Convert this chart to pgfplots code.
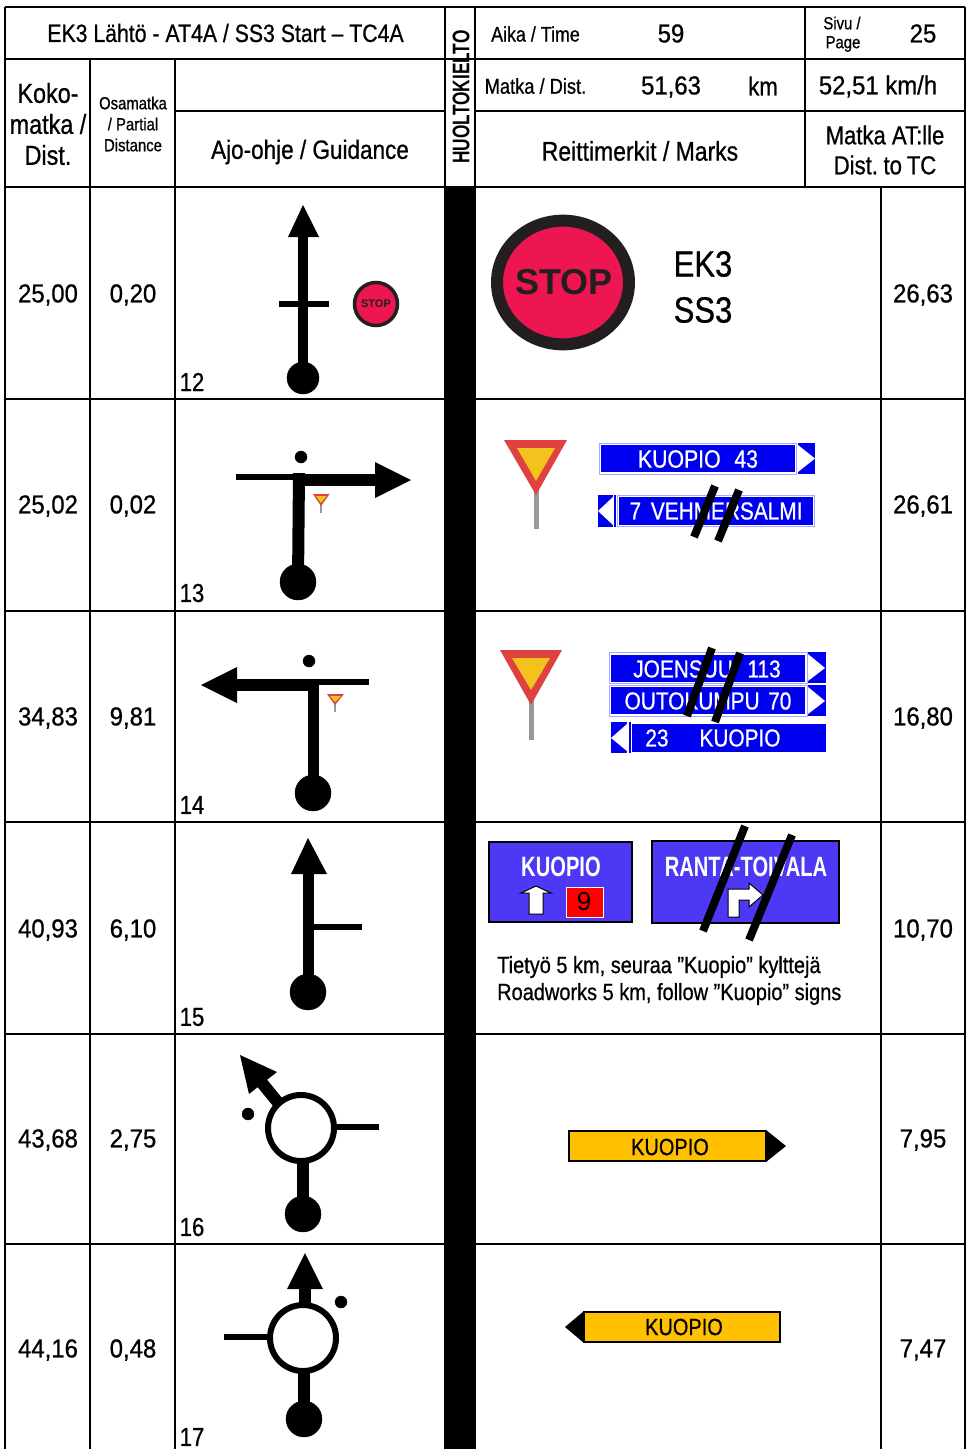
\documentclass[border=0pt]{standalone}
\usepackage{fontspec}
\setmainfont{Liberation Sans}[FakeStretch=0.85,FakeBold=0.7]
\newfontfamily\numf{Liberation Sans}[FakeStretch=0.92,FakeBold=0.7]
\newfontfamily\arialf{Liberation Sans}
\newfontfamily\signb{Liberation Sans Bold}[FakeStretch=0.72]
\usepackage{pgfplots}
\pgfplotsset{compat=1.18}
\definecolor{ybr}{HTML}{DF4040}
\definecolor{yby}{HTML}{F4C21C}
\definecolor{polegray}{HTML}{999999}
\definecolor{stopred}{HTML}{EE1650}
\definecolor{stopink}{HTML}{231F20}
\definecolor{signblue}{HTML}{0000F0}
\definecolor{signedge}{HTML}{A8A8FF}
\definecolor{bigblue}{HTML}{4C38F5}
\definecolor{oranges}{HTML}{FFC000}
% line: width, colour, coordinates
\newcommand\Ln[3]{\addplot[draw=#2,line width=#1pt,line cap=butt] coordinates {#3};}
% polygon: fill colour, coordinates
\newcommand\Pg[2]{\addplot[fill=#1,draw=none] coordinates {#2} -- cycle;}
\newcommand\PgE[4]{\addplot[fill=#1,draw=#2,line width=#3pt] coordinates {#4} -- cycle;}
% dot: radius, fill, coordinate
\newcommand\Dt[3]{\addplot[only marks,mark=*,mark size=#1pt,mark options={fill=#2,draw=none}] coordinates {#3};}
% ring: radius, ring width, fill, ring colour, coordinate
\newcommand\Rg[5]{\addplot[only marks,mark=*,mark size=#1pt,mark options={fill=#3,draw=#4,line width=#2pt}] coordinates {#5};}
% text: x,y  size  content
\newcommand\T[3]{\node[inner sep=0pt,align=center,font=\fontsize{#2}{#2}\selectfont] at (axis cs:#1){#3};}
\newcommand\N[3]{\node[inner sep=0pt,align=center,font=\numf\fontsize{#2}{#2}\selectfont] at (axis cs:#1){#3};}
\newcommand\TL[3]{\node[inner sep=0pt,anchor=west,font=\fontsize{#2}{#2}\selectfont] at (axis cs:#1){#3};}
\newcommand\TW[3]{\node[inner sep=0pt,align=center,text=white,font=\fontsize{#2}{#2}\selectfont] at (axis cs:#1){#3};}
\newcommand\TB[3]{\node[inner sep=0pt,align=center,text=white,font=\signb\fontsize{#2}{#2}\selectfont] at (axis cs:#1){#3};}
\begin{document}
\begin{tikzpicture}
\begin{axis}[scale only axis,width=971pt,height=1449pt,xmin=0,xmax=971,ymin=0,ymax=1449,y dir=reverse,hide axis,clip mode=individual]
\Pg{white}{(0,0)(971,0)(971,1449)(0,1449)}
% black column
\Pg{black}{(445,187)(475,187)(475,1449)(445,1449)}
% grid
\Ln{2}{black}{(5,7)(965,7)}
\Ln{2}{black}{(5,59)(965,59)}
\Ln{2}{black}{(175,111)(445,111)}
\Ln{2}{black}{(475,111)(965,111)}
\Ln{2}{black}{(5,187)(965,187)}
\Ln{2}{black}{(5,399)(965,399)}
\Ln{2}{black}{(5,611)(965,611)}
\Ln{2}{black}{(5,822)(965,822)}
\Ln{2}{black}{(5,1034)(965,1034)}
\Ln{2}{black}{(5,1244)(965,1244)}
\Ln{2}{black}{(5,7)(5,1449)}
\Ln{2}{black}{(965,7)(965,1449)}
\Ln{2}{black}{(90,59)(90,1449)}
\Ln{2}{black}{(175,59)(175,1449)}
\Ln{2}{black}{(445,7)(445,1449)}
\Ln{2}{black}{(475,7)(475,1449)}
\Ln{2}{black}{(805,7)(805,187)}
\Ln{2}{black}{(881,187)(881,1449)}
% guidance 12
\Ln{10.5}{black}{(303,235)(303,378)}
\Pg{black}{(303,205)(319,237)(288,237)}
\Ln{6}{black}{(279,304)(329,304)}
\Dt{16}{black}{(303,378)}
\Rg{21.5}{3.5}{stopred}{stopink}{(376,304)}
% guidance 13
\Ln{6}{black}{(236,477)(298,477)}
\Ln{12}{black}{(298,480)(376,480)}
\Pg{black}{(375,462)(411,480)(375,498)}
\Pg{black}{(293,473)(305,473)(304,582)(292,582)}
\Dt{18}{black}{(298,582)}
\Dt{6}{black}{(301,457)}
\Ln{2.5}{polegray}{(321,505)(321,513)}
\Pg{ybr}{(313,494)(329.5,494)(321,506)}
\Pg{yby}{(316,496)(326.5,496)(321,503)}
% guidance 14
\Ln{6}{black}{(313,682)(369,682)}
\Ln{12}{black}{(237,685)(313,685)}
\Pg{black}{(201,685)(237,667)(237,703)}
\Ln{11.7}{black}{(313.5,679)(313.5,793)}
\Dt{18}{black}{(313,793)}
\Dt{6}{black}{(309,661)}
\Ln{2.5}{polegray}{(335,703)(335,712)}
\Pg{ybr}{(327,694)(344,694)(335,705)}
\Pg{yby}{(330,696)(341,696)(335,702)}
% guidance 15
\Pg{black}{(308,838)(327,874)(291,874)}
\Ln{11.5}{black}{(308.5,873)(308.5,992)}
\Ln{6}{black}{(308,927)(362,927)}
\Dt{18}{black}{(308,992)}
% guidance 16
\Ln{12}{black}{(262,1083)(280,1105)}
\Pg{black}{(240,1055)(277,1072)(249,1094)}
\Rg{33}{6}{white}{black}{(301,1128)}
\Ln{12}{black}{(303,1163)(303,1214)}
\Dt{18}{black}{(303,1214)}
\Ln{6}{black}{(337,1127)(379,1127)}
\Dt{6}{black}{(248,1114)}
% guidance 17
\Ln{12}{black}{(305,1288)(305,1306)}
\Pg{black}{(305,1253)(323,1289)(287,1289)}
\Rg{33}{6}{white}{black}{(303,1338)}
\Ln{12}{black}{(304,1373)(304,1419)}
\Dt{18}{black}{(304,1419)}
\Ln{6}{black}{(224,1337)(268,1337)}
\Dt{6}{black}{(341,1302)}
% marks row 12: the big sign is slightly oval
\addplot[only marks,mark=*,mark size=66pt,mark options={yscale=0.937,fill=stopred,draw=stopink,line width=12pt}] coordinates {(563,282.5)};
% marks row 13
\Ln{5}{polegray}{(536,490)(536,529)}
\Pg{ybr}{(504,440)(567,440)(536,495)}
\Pg{yby}{(517,448)(555,448)(536,481)}
\Pg{signblue}{(601,445)(795,445)(795,472)(601,472)}
\Ln{1}{signedge}{(599,443)(796,443)(796,474)(599,474)(599,443)}
\Pg{signblue}{(798,443)(815,443)(815,474)(798,474)}
\Pg{white}{(798,445)(815,458.5)(798,472)}
\Pg{signblue}{(598,495)(613,495)(613,527)(598,527)}
\Pg{white}{(598,511)(613,497)(613,525)}
\Ln{2}{signblue}{(615,495)(615,527)}
\Pg{signblue}{(619,497)(813,497)(813,525)(619,525)}
\Ln{1}{signedge}{(617,495)(814,495)(814,526)(617,526)(617,495)}
% marks row 14
\Ln{5}{polegray}{(531,700)(531,740)}
\Pg{ybr}{(500,650)(562,650)(531,705)}
\Pg{yby}{(512,658)(550,658)(531,690)}
\Pg{signblue}{(611,655)(805,655)(805,682)(611,682)}
\Ln{1}{signedge}{(609,652)(807,652)(807,683)(609,683)(609,652)}
\Pg{signblue}{(808,652)(826,652)(826,683)(808,683)}
\Pg{white}{(808,654)(825,668)(808,681)}
\Pg{signblue}{(611,687)(805,687)(805,714)(611,714)}
\Ln{1}{signedge}{(609,685)(807,685)(807,716)(609,716)(609,685)}
\Pg{signblue}{(808,685)(826,685)(826,716)(808,716)}
\Pg{white}{(808,687)(825,701)(808,714)}
\Pg{signblue}{(611,722)(627,722)(627,753)(611,753)}
\Pg{white}{(611,738)(627,724)(627,751)}
\Ln{2}{signblue}{(630,722)(630,753)}
\Pg{signblue}{(632,724)(826,724)(826,752)(632,752)}
% marks row 15
\PgE{bigblue}{black}{1.5}{(489,842)(632,842)(632,922)(489,922)}
\PgE{white}{black}{1}{(536,886)(551,893)(543,893)(543,914)(529,914)(529,893)(521,893)}
\PgE{red}{white}{1}{(566,887)(603,887)(603,917)(566,917)}
\PgE{bigblue}{black}{1.5}{(652,841)(839,841)(839,923)(652,923)}
\PgE{white}{black}{1}{(728,917)(739,917)(739,900)(749,900)(749,907)(763,895)(749,883)(749,889)(728,889)}
% marks rows 16, 17
\PgE{oranges}{black}{2}{(569,1131)(766,1131)(766,1161)(569,1161)}
\Pg{black}{(766,1130)(786,1146)(766,1162)}
\PgE{oranges}{black}{2}{(584,1312)(780,1312)(780,1342)(584,1342)}
\Pg{black}{(584,1311)(565,1327)(584,1343)}
% header text
\T{225.5,33}{25}{EK3 Lähtö - AT4A / SS3 Start – TC4A}
\node[inner sep=0pt,rotate=90,font=\signb\fontsize{24}{24}\selectfont] at (axis cs:461,97){HUOLTOKIELTO};
\T{535.5,34}{21}{Aika / Time}
\N{671,33.5}{26}{59}
\T{842,23}{17.5}{Sivu /}
\T{843,44}{17.5}{Page}
\N{923,33.5}{26}{25}
\T{535.5,86}{21.5}{Matka / Dist.}
\N{671,87}{26}{51,63}
\T{763,86}{26}{km}
\N{878,86.5}{26}{52,51 km/h}
\T{48,93}{27.5}{Koko-}
\T{48,124}{27.5}{matka /}
\T{48,155}{27.5}{Dist.}
\T{133,103}{17.5}{Osamatka}
\T{133,124}{17.5}{/ Partial}
\T{133,145}{17.5}{Distance}
\T{310,152}{26.5}{Ajo-ohje / Guidance}
\T{640,151}{27}{Reittimerkit / Marks}
\T{885,135}{26}{Matka AT:lle}
\T{885,165}{26}{Dist.\hspace{-0.1em} to\hspace{-0.05em} TC}
% row values
\N{48,295}{26}{25,00}\N{133,295}{26}{0,20}\N{923,295}{26}{26,63}
\N{48,506}{26}{25,02}\N{133,506}{26}{0,02}\N{923,506}{26}{26,61}
\N{48,718}{26}{34,83}\N{133,718}{26}{9,81}\N{923,718}{26}{16,80}
\N{48,930}{26}{40,93}\N{133,930}{26}{6,10}\N{923,930}{26}{10,70}
\N{48,1140}{26}{43,68}\N{133,1140}{26}{2,75}\N{923,1140}{26}{7,95}
\N{48,1350}{26}{44,16}\N{133,1350}{26}{0,48}\N{923,1350}{26}{7,47}
\T{192,382}{26}{12}
\T{192,593}{26}{13}
\T{192,805}{26}{14}
\T{192,1017}{26}{15}
\T{192,1227}{26}{16}
\T{192,1437}{26}{17}
% texts on signs
\node[inner sep=0pt,text=stopink,font=\arialf\bfseries\fontsize{11}{11}\selectfont] at (axis cs:376,304){STOP};
\node[inner sep=0pt,text=stopink,font=\arialf\bfseries\fontsize{36}{36}\selectfont] at (axis cs:564,282){STOP};
\T{703,264}{36.5}{EK3}
\T{703,310}{36.5}{SS3}
\TW{698,459}{25}{KUOPIO\hspace{0.55em}43}
\TW{716,511}{24.5}{7\hspace{0.4em}VEHMERSALMI}
\TW{707,669}{24.5}{JOENSUU\hspace{0.6em}113}
\TW{708,701}{24.5}{OUTOKUMPU\hspace{0.35em}70}
\TW{657,738}{24.5}{23}
\TW{740,738}{24.5}{KUOPIO}
\TB{561,867}{28}{KUOPIO}
\node[inner sep=0pt,font=\arialf\fontsize{26}{26}\selectfont] at (axis cs:584,902){9};
\TB{746,867}{28}{RANTA-TOIVALA}
\TL{497,967}{23.5}{Tietyö 5 km, seuraa ”Kuopio” kylttejä}
\TL{497,994}{23.5}{Roadworks 5 km, follow ”Kuopio” signs}
\T{670,1147}{23.5}{KUOPIO}
\T{684,1327}{23.5}{KUOPIO}
% strikes
\Ln{8}{black}{(715,486)(694,537)}
\Ln{8}{black}{(739,490)(718,541)}
\Ln{8}{black}{(712,648)(687,716)}
\Ln{8}{black}{(740,653)(715,722)}
\Ln{8}{black}{(745,826)(703,931)}
\Ln{8}{black}{(792,835)(749,940)}
\end{axis}
\end{tikzpicture}
\end{document}
